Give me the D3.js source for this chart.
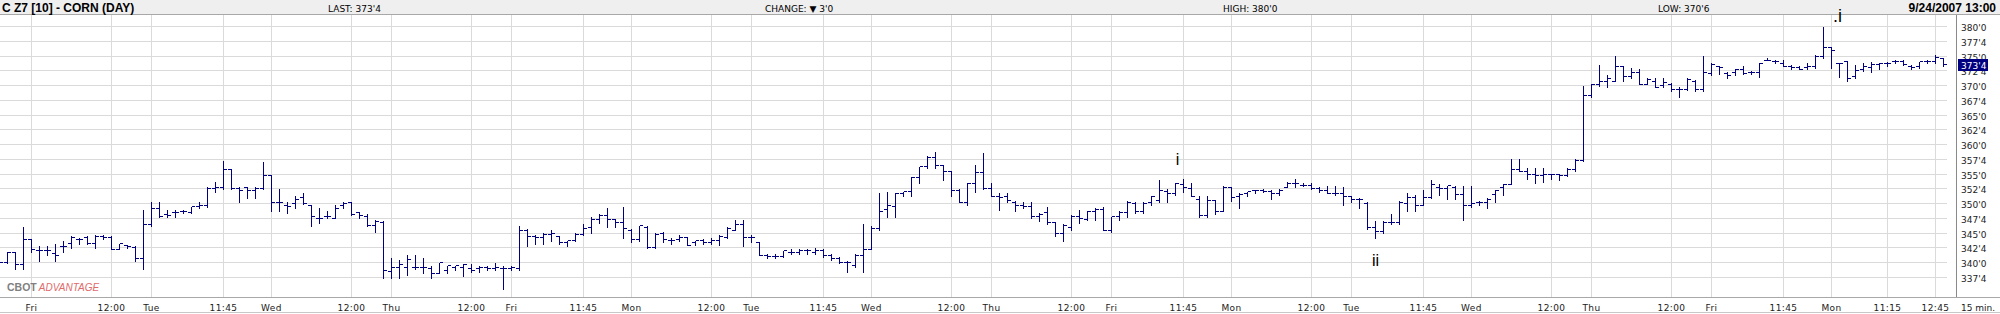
<!DOCTYPE html>
<html>
<head>
<meta charset="utf-8">
<script src="https://cdn.jsdelivr.net/npm/d3@7"></script>
<style>
  body { margin: 0; background: #fff; }
  svg { display: block; }
</style>
</head>
<body>
<div id="chart"></div>
<script>
// 15 minute bars, [open, high, low, close] in cents, one array per session (9:30 .. 13:00)
const thuAug30 = [ // only the last 4 bars are on screen
  [340, 340.25, 339.75, 340], [340, 341.75, 340, 341.75], [341.75, 341.75, 339, 339.75], [339.75, 346, 339, 344]
];
const friAug31 = [
  [344, 344, 341.75, 342.25], [342, 342.75, 340.25, 342], [342, 342.75, 341.25, 342], [341.5, 343.25, 340.25, 341.25],
  [342.75, 343.75, 341.75, 342.75], [343.25, 344.5, 342.5, 344.25], [344, 344.25, 343.25, 344], [344.25, 344.5, 343.25, 343.25],
  [343.25, 344.75, 342.5, 344.5], [344.5, 344.75, 344, 344.25], [344.25, 344.5, 342.25, 342.25], [342.25, 343.25, 342.25, 343.25],
  [343, 343, 342.5, 342.75], [342.5, 342.75, 340.25, 340.75], [340.75, 349, 339, 346.5]
];
const tueSep04 = [
  [346.5, 350.25, 346.25, 349.25], [349.25, 350.25, 347.75, 347.75], [348.25, 349, 347.75, 348], [348.5, 349, 347.75, 348.5],
  [348.75, 349, 348.5, 348.75], [348.5, 349.5, 348.5, 349.5], [349.5, 350.25, 349.25, 349.75], [349.75, 352.75, 349.5, 352.5],
  [352.5, 353.75, 352, 352.75], [352.75, 357.25, 352.5, 355.75], [355.75, 355.75, 352.5, 352.5], [352.5, 352.75, 350.25, 352.25],
  [352.75, 352.75, 351, 352.25], [352.25, 352.75, 351, 352.5], [352.5, 357, 352.5, 354.75]
];
const wedSep05 = [
  [354.75, 354.75, 348.75, 350.25], [350.25, 352.5, 348.75, 350.25], [349.75, 350.25, 348.5, 349.5], [350, 351.25, 349.25, 350.75],
  [351, 351.75, 350, 350], [349.75, 349.75, 346.25, 347.75], [347.5, 349.25, 346.75, 347.5], [347.75, 348.75, 347.5, 347.75],
  [347.5, 349.75, 347.5, 349.25], [349.75, 350.25, 349.25, 350], [350.25, 350.25, 348, 348.25], [348.5, 348.5, 347.5, 348],
  [347.75, 348.25, 346.25, 346.25], [346.25, 347.25, 345.25, 347], [346.75, 347, 337.5, 338.75]
];
const thuSep06 = [
  [338.5, 340.75, 337.5, 339.25], [339.25, 340.5, 337.5, 339.75], [339.25, 341.25, 338, 340.5], [339.25, 341.25, 339, 339.25],
  [339.25, 340.75, 338.25, 339.25], [339, 339.5, 337.5, 338.25], [338.25, 340, 338.25, 340], [338.75, 339.5, 338.25, 339.5],
  [339.25, 339.5, 338.75, 339.5], [339.25, 339.75, 337.75, 339.75], [339, 339.75, 338.5, 338.75], [339, 339.5, 338.5, 339.25],
  [339.25, 339.5, 338.75, 339], [339, 340, 338.75, 339.25], [339, 339.5, 335.5, 339]
];
const friSep07 = [
  [339, 339.5, 338.75, 339.25], [339, 346.25, 338.75, 345.5], [345.5, 345.75, 342.75, 344.5], [344.5, 344.75, 343.25, 344.25],
  [344.25, 345, 343.25, 344.75], [344.75, 345.5, 343.75, 345], [344.5, 344.5, 343.25, 343.5], [343.5, 343.75, 342.75, 343.75],
  [343.75, 345, 343.75, 344.75], [344.75, 346.5, 344.75, 345.75], [346, 347.75, 345, 347.25], [347.25, 348.25, 346.75, 348],
  [348, 349.25, 346, 347.25], [347.25, 347.25, 346, 346.75], [346.75, 349.5, 344.25, 345.75]
];
const monSep10 = [
  [345.5, 345.75, 343.5, 344], [344, 346.25, 343.75, 346.25], [346, 346.25, 342.5, 342.5], [342.5, 345, 342.5, 344.75],
  [345, 345.25, 343.5, 344], [343.75, 344.25, 343.25, 343.75], [344, 344.75, 343.75, 344.25], [344.25, 344.25, 343, 343],
  [343.5, 343.75, 343, 343.75], [343.75, 344, 343.25, 343.5], [343.5, 344.25, 343.25, 343.75], [343.75, 344.75, 343, 344.5],
  [344.25, 346, 344.25, 345.75], [345.5, 347.25, 345.5, 346.5], [346.5, 347.25, 342.75, 344.25]
];
const tueSep11 = [
  [344.25, 344.75, 343.5, 344.25], [343.5, 343.5, 341.25, 341.25], [341.25, 341.5, 340.75, 341], [341, 341.5, 340.75, 341],
  [341, 342, 341, 342], [341.75, 342.25, 341.5, 341.75], [341.75, 342.25, 341.5, 342], [342, 342.25, 341.5, 342],
  [341.75, 342.5, 341.5, 342], [342, 342.25, 341, 341.25], [341.25, 341.5, 340.5, 340.75], [340.75, 341, 340, 340],
  [340, 340.25, 338.5, 340], [339.5, 341.5, 339.25, 341.25], [341.25, 346.5, 338.5, 342.25]
];
const wedSep12 = [
  [342.25, 346.25, 342.25, 345.75], [345.75, 351.75, 345.5, 348.75], [349, 352, 347.75, 349.75], [349.5, 351.75, 347.75, 351.75],
  [351.75, 352, 351.25, 352], [352, 354.5, 351.25, 354.5], [354.5, 356.25, 353.5, 356.25], [356.25, 358, 356, 357.75],
  [357.75, 358.75, 356, 356.5], [356.5, 356.5, 354, 355.5], [355.5, 355.5, 351.25, 352.25], [352.25, 352.5, 350.25, 350.25],
  [350.25, 353.5, 349.75, 353.5], [353.5, 356.5, 352, 355.25], [355.25, 358.5, 352.5, 352.5]
];
const thuSep13 = [
  [352.5, 353.5, 351.25, 351.25], [351.25, 351.75, 349, 351], [351.25, 351.75, 350.25, 350.5], [350.25, 350.5, 348.75, 349.75],
  [349.75, 350.25, 349.25, 349.5], [349.5, 350.25, 347.5, 347.75], [347.75, 348.5, 347, 348.25], [348.5, 349.5, 346.5, 346.75],
  [346.75, 346.75, 344.5, 345], [345, 346.5, 343.75, 346.25], [346, 348, 345.5, 347.75], [347.75, 349, 346.75, 347.5],
  [347.25, 348.75, 347.25, 348.75], [348.75, 349.25, 347.25, 349], [349, 349.5, 345.5, 345.5]
];
const friSep14 = [
  [345.5, 347.75, 345.25, 347.75], [347.75, 348.75, 347.25, 348.5], [348.5, 350.5, 347.75, 350.25], [350, 350.25, 348.5, 348.75],
  [348.75, 350.25, 348.5, 350], [350.25, 351.25, 349.75, 351.25], [350.5, 354, 350.25, 352.25], [352, 352.5, 350.25, 351.75],
  [351.75, 353.5, 351.5, 353.5], [353.25, 354.25, 352, 352.75], [352.5, 353.5, 351.25, 351.25], [350.75, 351.25, 347.75, 348],
  [348, 351.25, 347.75, 350.5], [350.5, 350.5, 348.25, 348.75], [348.75, 353, 348.75, 352.75]
];
const monSep17 = [
  [352.75, 352.75, 350.5, 351], [351.25, 351.75, 349.25, 351.5], [351.75, 352, 351.25, 352], [352.25, 352.25, 351.75, 352.25],
  [352.25, 352.5, 352, 352], [352, 352.25, 350.75, 351.75], [351.75, 352.5, 351.5, 352.25], [352.75, 353.75, 352.75, 353.5],
  [353.5, 354.25, 352.75, 353.5], [353, 353.5, 353, 353], [353, 353.5, 352.5, 352.5], [352.5, 352.75, 352, 352.25],
  [352.25, 353, 351.75, 351.75], [351.75, 353, 351.5, 351.75], [351.75, 352.75, 349.75, 351.25]
];
const tueSep18 = [
  [351.25, 351.25, 350.25, 350.75], [350.75, 351, 349.25, 350.75], [350, 350.25, 345.75, 346], [346, 347, 344.25, 345.25],
  [345.25, 347, 345, 346.75], [346.75, 348.25, 346.5, 346.75], [346.75, 350.5, 346.5, 350.25], [350, 351.75, 348.75, 351],
  [351, 351.5, 348.75, 349.75], [349.75, 352.25, 349.75, 351], [351, 354, 351, 353.25], [352.75, 353.25, 351.5, 352.5],
  [352.5, 353, 350.75, 353], [352.75, 353, 350.75, 351.5], [351.5, 353, 347.25, 349.75]
];
const wedSep19 = [
  [349.75, 353, 349.5, 350], [350.25, 350.5, 349.75, 350.25], [350.25, 351, 349.25, 350.75], [351.5, 352.25, 350.25, 352.25],
  [352.75, 353.25, 351.5, 353.25], [353.25, 357.5, 353.25, 355.75], [355.75, 357.5, 355.5, 355.5], [355.5, 356, 354.25, 355],
  [355, 356, 353.5, 354.75], [354.75, 356, 353.75, 355], [355, 355, 354.25, 355], [355, 355, 354, 354.75],
  [354.75, 356, 354.75, 355.75], [355.75, 357.5, 355.5, 357.25], [357.25, 370, 357.25, 368.25]
];
const thuSep20 = [
  [368.25, 370.25, 368, 370.25], [370.25, 373.5, 370, 370.75], [370.75, 371.75, 369.75, 371.25], [370.75, 375, 370.75, 373.25],
  [373.25, 373.25, 370.75, 371.5], [371.5, 373, 371.25, 372.25], [372.25, 372.75, 370.25, 370.25], [370.25, 371.25, 370.25, 371],
  [370.75, 371.25, 369.75, 369.75], [370, 371.25, 369.75, 370.5], [370.25, 370.5, 369, 369.25], [369.25, 369.75, 368, 369.25],
  [369.25, 371.25, 369.25, 371], [370.75, 371, 369, 369.25], [369.25, 375, 369, 372.25]
];
const friSep21 = [
  [372, 373.75, 371.75, 373.5], [373.25, 373.25, 372, 373], [372, 372.25, 371.25, 371.75], [372.25, 372.75, 371.75, 372.75],
  [372.75, 373.25, 372, 372], [372.25, 372.5, 372, 372.25], [372.25, 373.75, 371.5, 373.75], [374.25, 374.75, 374.25, 374.25],
  [374, 374.25, 373.75, 374], [373.75, 374.25, 373.25, 373.25], [373.25, 373.5, 372.75, 373], [373, 373.25, 372.75, 372.75],
  [373, 373.75, 372.75, 373.25], [373.25, 375.25, 373, 375], [375, 380, 374.75, 376.5]
];
const monSep24 = [
  [376.5, 376.5, 373, 376], [373.75, 373.75, 371.5, 373.75], [374, 374, 370.75, 371.25], [371.5, 373.5, 371.25, 372.5],
  [372.75, 373.75, 372.5, 373.25], [373, 374, 372.25, 373.5], [373.5, 373.75, 372.75, 373.75], [373.75, 374, 373.25, 373.75],
  [374, 374.25, 373.75, 374], [374, 374.25, 373.5, 373.5], [373.25, 373.5, 372.75, 373], [373.25, 374, 373, 374],
  [374, 374.25, 373.75, 374], [374, 375.25, 373.75, 374.75], [374.5, 374.75, 373.25, 373.5]
];

const sessions = [thuAug30, friAug31, tueSep04, wedSep05, thuSep06, friSep07, monSep10, tueSep11, wedSep12,
                  thuSep13, friSep14, monSep17, tueSep18, wedSep19, thuSep20, friSep21, monSep24];
const dayNames = ['', 'Fri', 'Tue', 'Wed', 'Thu', 'Fri', 'Mon', 'Tue', 'Wed', 'Thu', 'Fri', 'Mon', 'Tue', 'Wed', 'Thu', 'Fri', 'Mon'];
const timeLabels = [[], ['12:00'], ['11:45'], ['12:00'], ['12:00'], ['11:45'], ['12:00'], ['11:45'], ['12:00'],
                    ['12:00'], ['11:45'], ['12:00'], ['11:45'], ['12:00'], ['12:00'], ['11:45'], ['11:15', '12:45']];
const priceTicks = [337.5, 340, 342.5, 345, 347.5, 350, 352.5, 355, 357.5, 360, 362.5, 365, 367.5, 370, 372.5, 375, 377.5, 380];
const notes = [ // wave counts written on the chart: [text, bar position, price of baseline]
  ['i', 143.25, 356.5], ['ii', 168, 339.5], ['.i', 225.75, 380.7]
];
const header = { title: 'C Z7 [10] - CORN (DAY)', last: "LAST: 373'4", change: "CHANGE: \u25BC 3'0",
                 high: "HIGH: 380'0", low: "LOW: 370'6", stamp: '9/24/2007 13:00' };

const width = 2000;
const height = 314;
const barsPerDay = 15;
const navy = '#000080';
const gridColor = '#dadada';
const small = '"DejaVu Sans", Verdana, sans-serif';
const arial = '"Liberation Sans", Arial, sans-serif';

const fmtPrice = (p) => Math.floor(p) + "'" + Math.round((p - Math.floor(p)) * 8);
const barOfTime = (t) => {
  const [h, m] = t.split(':').map(Number);
  return (h * 60 + m - (9 * 60 + 30)) / 15;
};

const bars = [];
sessions.forEach((s, d) => {
  const first = barsPerDay - s.length;
  s.forEach((v, j) => bars.push({ i: (d - 1) * barsPerDay + first + j, o: v[0], h: v[1], l: v[2], c: v[3] }));
});

const x = d3.scaleLinear().domain([0, 240]).range([31.5, 1951.5]);
const y = d3.scaleLinear().domain([337.5, 380]).range([277.5, 26.5]);
const px = (v) => Math.floor(v) + 0.5;

const svg = d3.select('#chart')
              .append('svg')
              .attr('width', width)
              .attr('height', height);

// header strip
svg.append('rect')
   .attr('width', width)
   .attr('height', 14)
   .attr('fill', '#efefef');
svg.append('line')
   .attr('x1', 0).attr('x2', width)
   .attr('y1', 14.5).attr('y2', 14.5)
   .attr('stroke', '#a8a8a8');

// grid
const plotRight = 1947;
const plotBottom = 297;
svg.append('g')
   .selectAll('line')
   .data(priceTicks)
   .enter()
   .append('line')
   .attr('x1', 0)
   .attr('x2', plotRight)
   .attr('y1', (d) => px(y(d)))
   .attr('y2', (d) => px(y(d)))
   .attr('stroke', gridColor);

const xTicks = [];
dayNames.forEach((name, d) => {
  if (name) xTicks.push({ i: (d - 1) * barsPerDay, label: name });
  timeLabels[d].forEach((t) => xTicks.push({ i: (d - 1) * barsPerDay + barOfTime(t), label: t }));
});

svg.append('g')
   .selectAll('line')
   .data(xTicks)
   .enter()
   .append('line')
   .attr('x1', (d) => px(x(d.i)))
   .attr('x2', (d) => px(x(d.i)))
   .attr('y1', 15)
   .attr('y2', plotBottom)
   .attr('stroke', gridColor);

// frame lines
svg.append('line')
   .attr('x1', 0).attr('x2', width)
   .attr('y1', plotBottom + 0.5).attr('y2', plotBottom + 0.5)
   .attr('stroke', '#a8a8a8');
svg.append('line')
   .attr('x1', 0).attr('x2', width)
   .attr('y1', 312.5).attr('y2', 312.5)
   .attr('stroke', '#c8c8c8');
svg.append('line')
   .attr('x1', 1956.5).attr('x2', 1956.5)
   .attr('y1', 15).attr('y2', plotBottom)
   .attr('stroke', '#8a8a8a');

// logo
const logo = svg.append('text')
                .attr('x', 7)
                .attr('y', 291)
                .style('font-family', arial)
                .style('font-size', '10.5px');
logo.append('tspan')
    .attr('fill', '#808080')
    .style('font-weight', 'bold')
    .text('CBOT');
logo.append('tspan')
    .attr('dx', 2)
    .attr('fill', '#e06a6a')
    .style('font-style', 'italic')
    .style('font-size', '10px')
    .text('ADVANTAGE');

// OHLC bars
svg.append('g')
   .selectAll('path')
   .data(bars)
   .enter()
   .append('path')
   .attr('d', (d) => {
     const bx = px(x(d.i));
     const yh = Math.round(y(d.h));
     const yl = Math.round(y(d.l));
     const yo = px(y(d.o));
     const yc = px(y(d.c));
     return 'M' + bx + ',' + yh + 'V' + (yl + 1) +
            'M' + (bx - 3.5) + ',' + yo + 'H' + bx +
            'M' + bx + ',' + yc + 'H' + (bx + 3.5);
   })
   .attr('fill', 'none')
   .attr('stroke', navy)
   .attr('stroke-width', 1)
   .attr('shape-rendering', 'crispEdges');

// wave labels
svg.append('g')
   .selectAll('text')
   .data(notes)
   .enter()
   .append('text')
   .attr('x', (d) => x(d[1]))
   .attr('y', (d) => y(d[2]))
   .attr('text-anchor', 'middle')
   .attr('fill', '#000')
   .style('font-family', arial)
   .style('font-size', (d) => d[0] === '.i' ? '18px' : '16px')
   .text((d) => d[0]);

// price axis
svg.append('g')
   .selectAll('text')
   .data(priceTicks)
   .enter()
   .append('text')
   .attr('x', 1961)
   .attr('y', (d) => y(d) + 4.5)
   .attr('fill', '#222')
   .style('font-family', small)
   .style('font-size', '9px')
   .text((d) => fmtPrice(d));

const lastClose = bars[bars.length - 1].c;
svg.append('rect')
   .attr('x', 1958)
   .attr('y', Math.round(y(lastClose)) - 6)
   .attr('width', 30)
   .attr('height', 12)
   .attr('fill', navy);
svg.append('text')
   .attr('x', 1961)
   .attr('y', Math.round(y(lastClose)) + 3.5)
   .attr('fill', '#fff')
   .style('font-family', small)
   .style('font-size', '9px')
   .text(fmtPrice(lastClose));

// time axis
svg.append('g')
   .selectAll('text')
   .data(xTicks)
   .enter()
   .append('text')
   .attr('x', (d) => x(d.i))
   .attr('y', 310.5)
   .attr('text-anchor', 'middle')
   .attr('fill', '#222')
   .style('font-family', small)
   .style('font-size', '9px')
   .style('letter-spacing', '0.4px')
   .text((d) => d.label);
svg.append('text')
   .attr('x', 1961)
   .attr('y', 310.5)
   .attr('fill', '#222')
   .style('font-family', small)
   .style('font-size', '9px')
   .text('15 min.');

// header texts
const headText = (tx, anchor, txt, bold) => {
  svg.append('text')
     .attr('x', tx)
     .attr('y', 11.5)
     .attr('text-anchor', anchor)
     .attr('fill', '#000')
     .style('font-family', bold ? arial : small)
     .style('font-size', bold ? '12px' : '9px')
     .style('font-weight', bold ? 'bold' : 'normal')
     .text(txt);
};
headText(2, 'start', header.title, true);
headText(328, 'start', header.last, false);
headText(765, 'start', header.change, false);
headText(1223, 'start', header.high, false);
headText(1658, 'start', header.low, false);
headText(1996, 'end', header.stamp, true);
</script>
</body>
</html>
